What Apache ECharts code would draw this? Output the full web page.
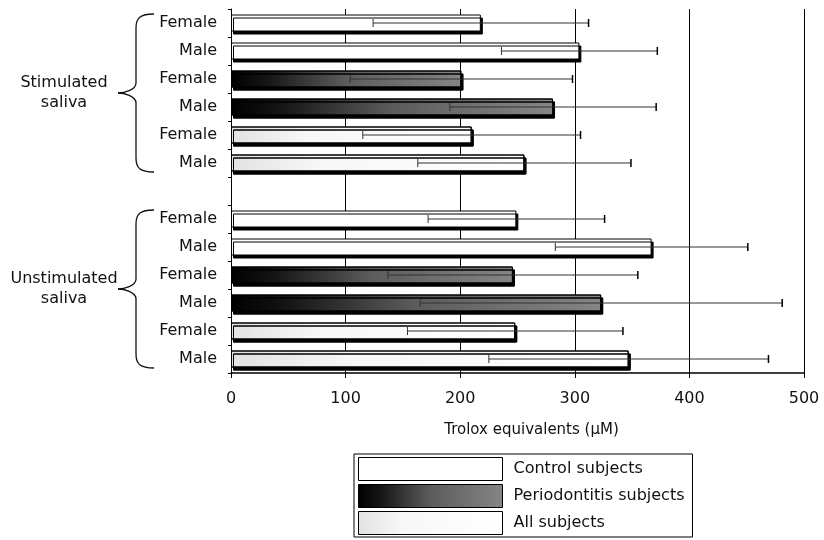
<!DOCTYPE html>
<html>
<head>
<meta charset="utf-8">
<script src="https://cdn.jsdelivr.net/npm/echarts@6/dist/echarts.min.js"></script>
<style>
html,body{margin:0;padding:0;background:#fff;}
#chart{width:824px;height:540px;}
</style>
</head>
<body>
<div id="chart"></div>
<script>
// ---- data ----
const rowLabels = ['Female','Male','Female','Male','Female','Male','','Female','Male','Female','Male','Female','Male'];
const rowGroup  = ['Control subjects','Control subjects','Periodontitis subjects','Periodontitis subjects','All subjects','All subjects','',
                   'Control subjects','Control subjects','Periodontitis subjects','Periodontitis subjects','All subjects','All subjects'];
const meanValues = [218, 304, 201, 281, 210, 256, null, 249, 367, 246, 323, 248, 347];
const sdValues   = [94, 68, 97, 90, 95, 93, null, 77, 84, 109, 158, 94, 122];
const seriesNames = ['Control subjects','Periodontitis subjects','All subjects'];
const groupNames = ['Stimulated\nsaliva','Unstimulated\nsaliva'];
const groupRows = [[0,5],[7,12]];
const xTicks = [0,100,200,300,400,500];

const FONT = 'DejaVu Sans';
const fills = {
  'Control subjects': '#ffffff',
  'Periodontitis subjects': {type:'linear',x:0,y:0,x2:1,y2:0,colorStops:[
     {offset:0,color:'#000'},{offset:0.15,color:'#141414'},{offset:0.5,color:'#5c5c5c'},{offset:1,color:'#858585'}]},
  'All subjects': {type:'linear',x:0,y:0,x2:1,y2:0,colorStops:[
     {offset:0,color:'#e2e2e2'},{offset:0.3,color:'#f7f7f7'},{offset:1,color:'#ffffff'}]}
};

const catKeys = rowLabels.map((l,i)=> 'r'+i);

const barSeries = seriesNames.map(name => ({
  name: name,
  type: 'bar',
  barWidth: 17,
  barGap: '-100%',
  z: 3,
  itemStyle: {
    color: fills[name],
    borderColor: '#000',
    borderWidth: 1,
    shadowColor: '#000',
    shadowBlur: 0,
    shadowOffsetX: 2,
    shadowOffsetY: 3
  },
  data: meanValues.map((v,i)=> rowGroup[i]===name ? v : '-')
}));

const errData = [];
meanValues.forEach((m,i)=>{
  if (m!=null) errData.push([m - sdValues[i], m + sdValues[i], i]);
});

const errSeries = {
  type: 'custom',
  z: 5,
  silent: true,
  encode: {x:[0,1], y:2},
  data: errData,
  renderItem: function(params, api){
    const lo = api.coord([api.value(0), api.value(2)]);
    const hi = api.coord([api.value(1), api.value(2)]);
    const h = 4;
    const st = {stroke:'#333', lineWidth:1};
    return {type:'group', children:[
      {type:'line', shape:{x1:lo[0],y1:lo[1],x2:hi[0],y2:hi[1]}, style:st},
      {type:'line', shape:{x1:lo[0],y1:lo[1]-h,x2:lo[0],y2:lo[1]+h}, style:st},
      {type:'line', shape:{x1:hi[0],y1:hi[1]-h,x2:hi[0],y2:hi[1]+h}, style:{stroke:'#000',lineWidth:1.5}}
    ]};
  }
};

const chart = echarts.init(document.getElementById('chart'));
const option = {
  backgroundColor: '#fff',
  animation: false,
  textStyle: {fontFamily: FONT},
  grid: {left: 231, right: 20, top: 9, bottom: 167},
  xAxis: {
    type: 'value',
    min: xTicks[0], max: xTicks[xTicks.length-1], interval: 100,
    name: 'Trolox equivalents (\u00b5M)',
    nameLocation: 'middle',
    nameGap: 50,
    nameTextStyle: {fontSize: 15, color:'#111', fontFamily: FONT, padding:[0,0,0,28]},
    axisLine: {show:true, lineStyle:{color:'#000', width:1.5}},
    axisTick: {show:true, length:5, lineStyle:{color:'#000'}},
    axisLabel: {fontSize:16, color:'#111', margin:18, fontFamily: FONT},
    splitLine: {show:true, lineStyle:{color:'#000', width:1}}
  },
  yAxis: {
    type: 'category',
    inverse: true,
    data: catKeys,
    axisLine: {show:true, lineStyle:{color:'#000', width:1}},
    axisTick: {show:true, length:3, inside:false, lineStyle:{color:'#000'}},
    axisLabel: {fontSize:16, color:'#111', margin:14, fontFamily: FONT,
      formatter: (v, idx)=> rowLabels[idx]},
    splitLine: {show:false}
  },
  legend: {
    data: seriesNames,
    orient: 'vertical',
    left: 354, top: 454, height: 86,
    icon: 'rect',
    itemWidth: 144, itemHeight: 23,
    itemGap: 3,
    padding: [3, 8, 2, 4],
    borderColor: '#000', borderWidth: 1,
    textStyle: {fontSize:16, color:'#111', fontFamily: FONT, padding:[0,0,0,6], lineHeight: 20},
    itemStyle: {borderColor:'#000', borderWidth:1, shadowBlur:0, shadowOffsetX:0, shadowOffsetY:0, shadowColor:'rgba(0,0,0,0)'}
  },
  series: barSeries.concat([errSeries])
};
chart.setOption(option);

// braces and group labels positioned from the axis scale
const graphics = [];
groupRows.forEach((g, gi)=>{
  const yTop = chart.convertToPixel({yAxisIndex:0}, catKeys[g[0]]) - 9;
  const yBot = chart.convertToPixel({yAxisIndex:0}, catKeys[g[1]]) + 9;
  const mid = (yTop + yBot)/2;
  const xs = 136, xt = 118, xe = 154;
  const st = {stroke:'#111', lineWidth:1.3, fill:null};
  graphics.push({type:'bezierCurve', silent:true, style:st,
    shape:{x1:xe, y1:yTop, cpx1:xs+4, cpy1:yTop, cpx2:xs, cpy2:yTop+4, x2:xs, y2:yTop+14}});
  graphics.push({type:'line', silent:true, style:st, shape:{x1:xs, y1:yTop+14, x2:xs, y2:mid-10}});
  graphics.push({type:'bezierCurve', silent:true, style:st,
    shape:{x1:xs, y1:mid-10, cpx1:xs, cpy1:mid-3, cpx2:xt+6, cpy2:mid, x2:xt, y2:mid}});
  graphics.push({type:'bezierCurve', silent:true, style:st,
    shape:{x1:xt, y1:mid, cpx1:xt+6, cpy1:mid, cpx2:xs, cpy2:mid+3, x2:xs, y2:mid+10}});
  graphics.push({type:'line', silent:true, style:st, shape:{x1:xs, y1:mid+10, x2:xs, y2:yBot-14}});
  graphics.push({type:'bezierCurve', silent:true, style:st,
    shape:{x1:xs, y1:yBot-14, cpx1:xs, cpy1:yBot-4, cpx2:xs+4, cpy2:yBot, x2:xe, y2:yBot}});
  graphics.push({type:'text', x:64, y:mid, silent:true, style:{text:groupNames[gi], font:'16px "DejaVu Sans"', fill:'#111',
     textAlign:'center', textVerticalAlign:'middle', lineHeight:20}});
});
chart.setOption({graphic: graphics});
</script>
</body>
</html>
